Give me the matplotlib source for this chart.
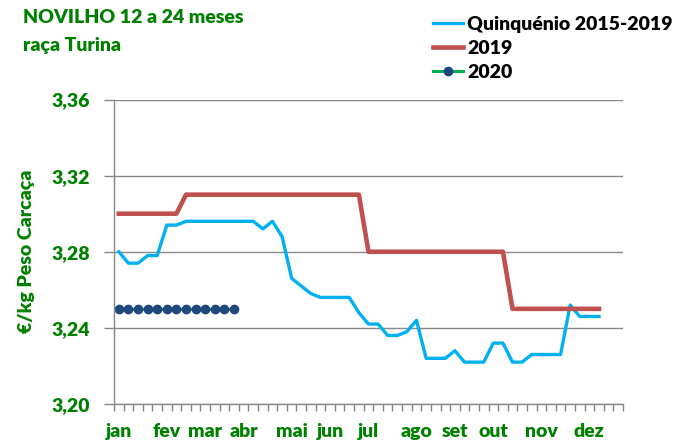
import numpy as np
import matplotlib.pyplot as plt

# weekly prices (EUR/kg carcass)
quinquenio = [3.280, 3.274, 3.274, 3.278, 3.278, 3.294, 3.294, 3.296, 3.296, 3.296,
              3.296, 3.296, 3.296, 3.296, 3.296, 3.292, 3.296, 3.288, 3.266, 3.262,
              3.258, 3.256, 3.256, 3.256, 3.256, 3.248, 3.242, 3.242, 3.236, 3.236,
              3.238, 3.244, 3.224, 3.224, 3.224, 3.228, 3.222, 3.222, 3.222, 3.232,
              3.232, 3.222, 3.222, 3.226, 3.226, 3.226, 3.226, 3.252, 3.246, 3.246,
              3.246]
ano_2019 = [3.30] * 7 + [3.31] * 19 + [3.28] * 15 + [3.25] * 10
ano_2020 = [3.25] * 13

n_weeks = 53
months = ["jan", "fev", "mar", "abr", "mai", "jun", "jul", "ago", "set", "out", "nov", "dez"]
month_week = [0, 5, 9, 13, 18, 22, 26, 31, 35, 39, 44, 49]

green = "#008000"
grey = "#888888"
font = "Lato"
weight = "heavy"
fsize = 14

fig = plt.figure(figsize=(6.81, 4.44), dpi=100)
ax = fig.add_axes([0.1674, 0.0901, 0.7474, 0.6858])

ax.plot(np.arange(len(quinquenio)), quinquenio, color="#00B0F0", lw=2.4,
        label="Quinquénio 2015-2019")
ax.plot(np.arange(len(ano_2019)), ano_2019, color="#C0504D", lw=3.3, label="2019")
ax.plot(np.arange(len(ano_2020)), ano_2020, color="#00B050", lw=2.2, marker="o",
        markersize=6, markerfacecolor="#1F497D", markeredgecolor="#1F497D", label="2020")

ax.set_xlim(-0.5, n_weeks - 0.5)
ax.set_ylim(3.20, 3.36)
ax.set_yticks([3.20, 3.24, 3.28, 3.32, 3.36])
ax.set_yticklabels(["3,20", "3,24", "3,28", "3,32", "3,36"])
ax.grid(axis="y", color=grey, lw=1.0)
ax.set_axisbelow(True)

# tick marks between weeks, month names on week centres
ax.set_xticks(np.arange(n_weeks + 1) - 0.5)
ax.set_xticklabels([])
ax.set_xticks(month_week, minor=True)
ax.set_xticklabels(months, minor=True)
ax.tick_params(axis="x", which="major", length=5, color=grey, width=1)
ax.tick_params(axis="x", which="minor", length=0, pad=14)
ax.tick_params(axis="y", length=7, color=grey, width=1, pad=10)

for lab in ax.get_xticklabels(minor=True) + ax.get_yticklabels():
    lab.set_color(green)
    lab.set_fontweight(weight)
    lab.set_fontsize(fsize)
    lab.set_family(font)

for side in ["top", "right"]:
    ax.spines[side].set_visible(False)
for side in ["left", "bottom"]:
    ax.spines[side].set_color(grey)
    ax.spines[side].set_linewidth(1)

ax.set_ylabel("€/kg Peso Carcaça", color=green, fontweight=weight, fontsize=fsize,
              family=font, labelpad=12)

fig.text(0.0338, 0.979, "NOVILHO 12 a 24 meses\nraça Turina", color=green,
         fontweight=weight, fontsize=fsize, family=font, va="top", linespacing=1.75)

leg = fig.legend(loc="upper left", bbox_to_anchor=(0.61, 1.004), frameon=False,
                 handlelength=1.55, handletextpad=0.2, labelspacing=0.37,
                 prop={"family": font, "weight": weight, "size": fsize})
for t in leg.get_texts():
    t.set_color("black")

plt.savefig("out.png", dpi=100)
